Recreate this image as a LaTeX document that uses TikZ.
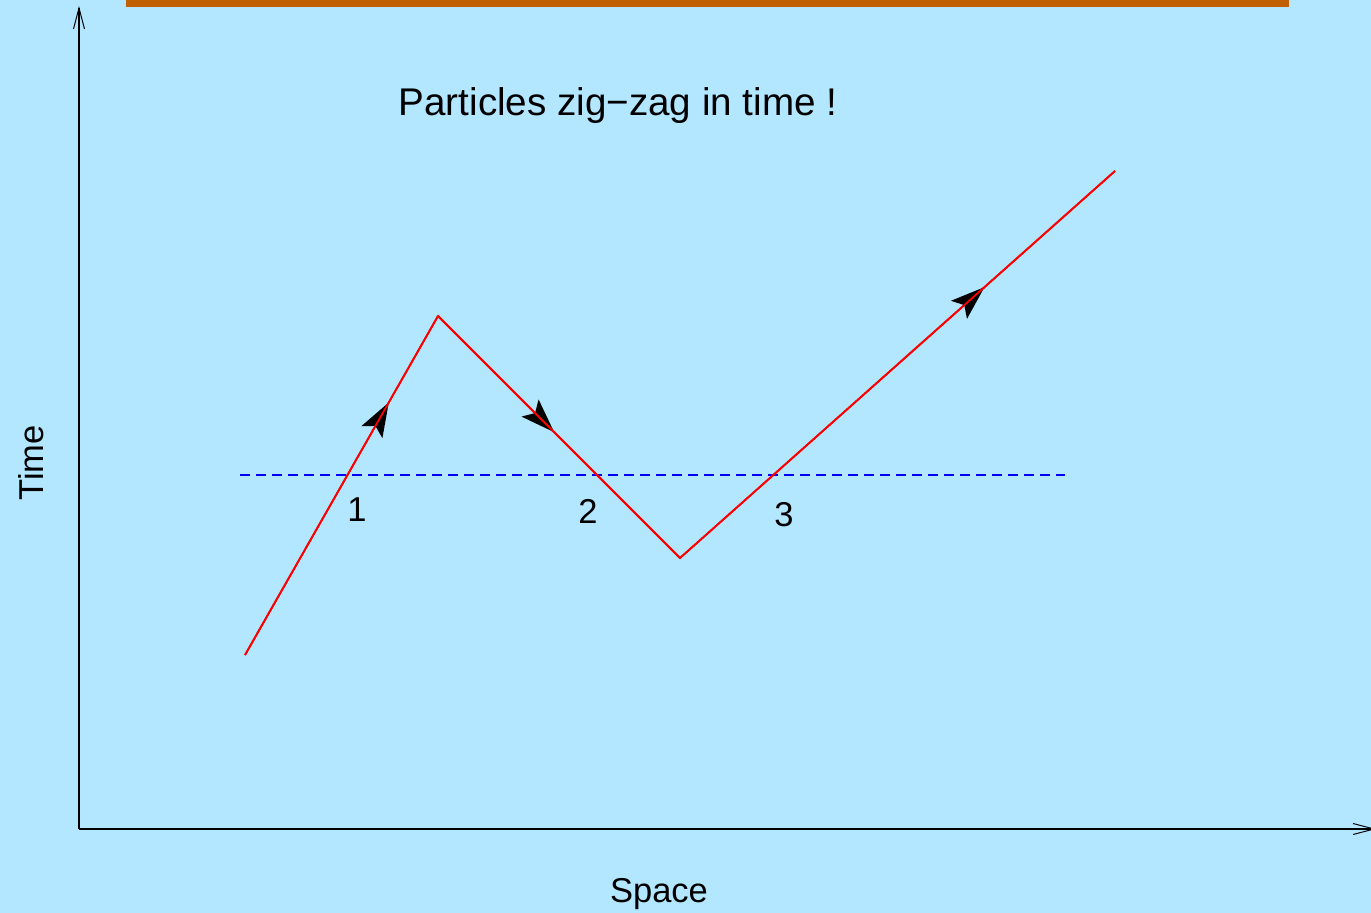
\documentclass[tikz,border=0pt]{standalone}
\usepackage{fontspec}
\setmainfont{Liberation Sans}
\usetikzlibrary{arrows.meta,decorations.markings,calc}
\definecolor{bgblue}{HTML}{B3E6FF}
\definecolor{barorange}{HTML}{C06000}
\tikzset{
  axis/.style={black, line width=1.1pt, -{Straight Barb[length=21pt,width=11pt,line width=1pt]}},
  world/.style={red, line width=1.8pt},
  dir/.style={postaction={decorate}, decoration={markings, mark=at position #1 with {\arrow[black]{Stealth[length=34pt,width=24pt,inset=7pt]}}}},
  cut/.style={blue, line width=1.8pt, dash pattern=on 10pt off 6pt},
  lbl/.style={font=\fontsize{34.5}{40}\selectfont, inner sep=0pt},
  ttl/.style={font=\fontsize{38.6}{44}\selectfont, inner sep=0pt}
}
\begin{document}
\begin{tikzpicture}[x=1pt,y=-1pt]
\fill[bgblue] (0,0) rectangle (1371,913);
\useasboundingbox (0,0) rectangle (1371,913);
\fill[barorange] (126,0) rectangle (1289,7);
\coordinate (O) at (79,829);
\coordinate (ytop) at (79,6);
\coordinate (xend) at (1376,829);
\draw[axis] (O) -- (ytop);
\draw[axis] (O) -- (xend);
\node[lbl] (space) at (659,894) {Space};
\node[lbl, rotate=90] (time) at (31,463) {Time};
\node[ttl] (title) at (618,106) {Particles zig−zag in time !};
\coordinate (p0) at (245,655);
\coordinate (p1) at (438,316);
\coordinate (p2) at (680,558);
\coordinate (p3) at (1115,171);
\coordinate (c0) at (240,475);
\coordinate (c1) at (1065,475);
\draw[cut] (c0) -- (c1);
\draw[world, dir=0.745] (p0) -- (p1);
\draw[world, dir=0.48] (p1) -- (p2);
\draw[world, dir=0.70] (p2) -- (p3);
\draw[world] (p0) -- (p1) -- (p2) -- (p3);
\node[lbl] (n1) at (357,510) {1};
\node[lbl] (n2) at (588,511) {2};
\node[lbl] (n3) at (784,515) {3};
\end{tikzpicture}
\end{document}
